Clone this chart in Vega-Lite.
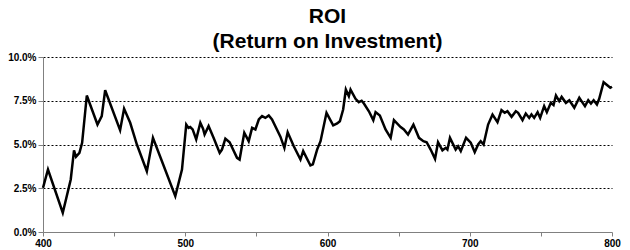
{
  "$schema": "https://vega.github.io/schema/vega-lite/v6.json",
  "width": 569,
  "height": 175,
  "autosize": "none",
  "padding": {"left": 43, "top": 57, "right": 18, "bottom": 18},
  "background": "white",
  "title": {
    "text": ["ROI", "(Return on Investment)"],
    "font": "Liberation Sans",
    "fontSize": 21,
    "fontWeight": "bold",
    "lineHeight": 25,
    "anchor": "middle",
    "offset": 0,
    "color": "black"
  },
  "config": {"view": {"stroke": null}},
  "data": {
    "values": [
      {"x": 400, "roi": 0.0252}, {"x": 403.5, "roi": 0.0357}, {"x": 413.9, "roi": 0.011}, {"x": 419.5, "roi": 0.03},
      {"x": 421.8, "roi": 0.0467}, {"x": 423.2, "roi": 0.043}, {"x": 425.6, "roi": 0.0452}, {"x": 427.5, "roi": 0.051},
      {"x": 430.8, "roi": 0.078}, {"x": 438.3, "roi": 0.0614}, {"x": 441.3, "roi": 0.0662}, {"x": 443.7, "roi": 0.081},
      {"x": 454.2, "roi": 0.0582}, {"x": 457, "roi": 0.0704}, {"x": 461.3, "roi": 0.0624}, {"x": 466, "roi": 0.05},
      {"x": 473, "roi": 0.0347}, {"x": 477.3, "roi": 0.0538}, {"x": 482.4, "roi": 0.043}, {"x": 493, "roi": 0.0205},
      {"x": 497.7, "roi": 0.0357}, {"x": 500.7, "roi": 0.0614}, {"x": 502.3, "roi": 0.0595}, {"x": 503.5, "roi": 0.06},
      {"x": 505.2, "roi": 0.0586}, {"x": 507.7, "roi": 0.0529}, {"x": 510.6, "roi": 0.0624}, {"x": 512.5, "roi": 0.059},
      {"x": 513.6, "roi": 0.0557}, {"x": 516.4, "roi": 0.0605}, {"x": 519.9, "roi": 0.0538}, {"x": 524.2, "roi": 0.0452},
      {"x": 525.8, "roi": 0.0471}, {"x": 528.2, "roi": 0.0533}, {"x": 531.2, "roi": 0.0513}, {"x": 536.4, "roi": 0.0424},
      {"x": 538.2, "roi": 0.0414}, {"x": 541.5, "roi": 0.0567}, {"x": 544.6, "roi": 0.0519}, {"x": 547, "roi": 0.0595},
      {"x": 549.3, "roi": 0.0586}, {"x": 551.7, "roi": 0.0643}, {"x": 554, "roi": 0.0662}, {"x": 556.3, "roi": 0.0652},
      {"x": 558.7, "roi": 0.0666}, {"x": 561, "roi": 0.0643}, {"x": 566.9, "roi": 0.0545}, {"x": 569.7, "roi": 0.0481},
      {"x": 572, "roi": 0.057}, {"x": 576.3, "roi": 0.049}, {"x": 581, "roi": 0.0414}, {"x": 582.9, "roi": 0.0462},
      {"x": 588, "roi": 0.038}, {"x": 589.7, "roi": 0.0386}, {"x": 592.7, "roi": 0.0471}, {"x": 595.1, "roi": 0.0519},
      {"x": 599.3, "roi": 0.0681}, {"x": 604, "roi": 0.0609}, {"x": 606.8, "roi": 0.062}, {"x": 608.7, "roi": 0.0633},
      {"x": 611, "roi": 0.07}, {"x": 612.9, "roi": 0.0814}, {"x": 615, "roi": 0.0776}, {"x": 616.2, "roi": 0.0814},
      {"x": 619.7, "roi": 0.0761}, {"x": 622, "roi": 0.0742}, {"x": 624, "roi": 0.075}, {"x": 625.6, "roi": 0.0734},
      {"x": 629.1, "roi": 0.069}, {"x": 632.2, "roi": 0.0639}, {"x": 633.8, "roi": 0.0685}, {"x": 636.8, "roi": 0.0666},
      {"x": 640.8, "roi": 0.0586}, {"x": 644.4, "roi": 0.0538}, {"x": 646.7, "roi": 0.0639}, {"x": 651.4, "roi": 0.06},
      {"x": 653.7, "roi": 0.0586}, {"x": 656.6, "roi": 0.0557}, {"x": 660.4, "roi": 0.0614}, {"x": 664.3, "roi": 0.0538},
      {"x": 667.4, "roi": 0.0519}, {"x": 669.7, "roi": 0.0513}, {"x": 672.5, "roi": 0.0471}, {"x": 675.6, "roi": 0.0418},
      {"x": 677.7, "roi": 0.0513}, {"x": 680.8, "roi": 0.0467}, {"x": 683.1, "roi": 0.0481}, {"x": 684.3, "roi": 0.0471},
      {"x": 686.1, "roi": 0.0538}, {"x": 690.1, "roi": 0.0471}, {"x": 691.8, "roi": 0.049}, {"x": 693.7, "roi": 0.0462},
      {"x": 697.4, "roi": 0.0538}, {"x": 700.7, "roi": 0.051}, {"x": 703.5, "roi": 0.0456}, {"x": 705.9, "roi": 0.05},
      {"x": 707.7, "roi": 0.0519}, {"x": 709.7, "roi": 0.05}, {"x": 712.9, "roi": 0.0614}, {"x": 716, "roi": 0.0671},
      {"x": 719.5, "roi": 0.0628}, {"x": 722.3, "roi": 0.0696}, {"x": 724.6, "roi": 0.0681}, {"x": 726.5, "roi": 0.069},
      {"x": 729.4, "roi": 0.0658}, {"x": 732.4, "roi": 0.069}, {"x": 734, "roi": 0.0681}, {"x": 737.1, "roi": 0.0639},
      {"x": 739.4, "roi": 0.0677}, {"x": 741.8, "roi": 0.0652}, {"x": 743.4, "roi": 0.0672}, {"x": 745.3, "roi": 0.0652},
      {"x": 747.7, "roi": 0.0685}, {"x": 749.5, "roi": 0.0652}, {"x": 752.3, "roi": 0.0719}, {"x": 754.2, "roi": 0.0685},
      {"x": 757, "roi": 0.0738}, {"x": 758.9, "roi": 0.0725}, {"x": 760.6, "roi": 0.078}, {"x": 762.9, "roi": 0.0748},
      {"x": 764.6, "roi": 0.0772}, {"x": 767.6, "roi": 0.0738}, {"x": 770, "roi": 0.0753}, {"x": 773.5, "roi": 0.071},
      {"x": 777, "roi": 0.0767}, {"x": 779.4, "roi": 0.0738}, {"x": 781, "roi": 0.0719}, {"x": 783.3, "roi": 0.0753},
      {"x": 785.2, "roi": 0.0734}, {"x": 787.1, "roi": 0.0753}, {"x": 789.4, "roi": 0.0729}, {"x": 791, "roi": 0.0761},
      {"x": 794.1, "roi": 0.0856}, {"x": 796.9, "roi": 0.0837}, {"x": 798.8, "roi": 0.0824}, {"x": 800, "roi": 0.083}
    ]
  },
  "mark": {"type": "line", "color": "black", "strokeWidth": 2.5, "clip": false},
  "encoding": {
    "x": {
      "field": "x",
      "type": "quantitative",
      "scale": {"domain": [400, 800], "nice": false, "zero": false},
      "axis": {
        "title": null,
        "values": [400, 450, 500, 550, 600, 650, 700, 750, 800],
        "labelExpr": "datum.value % 100 === 0 ? datum.label : ''",
        "format": "d",
        "grid": false,
        "domainColor": "#808080",
        "tickColor": "#808080",
        "tickSize": 4,
        "labelFont": "Liberation Sans",
        "labelFontSize": 10,
        "labelFontWeight": "bold",
        "labelColor": "black",
        "labelPadding": 2,
        "labelOverlap": false,
        "labelFlush": false
      }
    },
    "y": {
      "field": "roi",
      "type": "quantitative",
      "scale": {"domain": [0, 0.1], "nice": false},
      "axis": {
        "title": null,
        "values": [0, 0.025, 0.05, 0.075, 0.1],
        "format": ".1%",
        "grid": true,
        "gridColor": "black",
        "gridDash": [2, 2],
        "gridWidth": 1,
        "gridOpacity": {"condition": {"test": "datum.value === 0", "value": 0}, "value": 1},
        "domainColor": "#808080",
        "tickColor": "#808080",
        "tickSize": 5,
        "labelFont": "Liberation Sans",
        "labelFontSize": 10,
        "labelFontWeight": "bold",
        "labelColor": "black",
        "labelPadding": 2,
        "labelFlush": false
      }
    }
  }
}
